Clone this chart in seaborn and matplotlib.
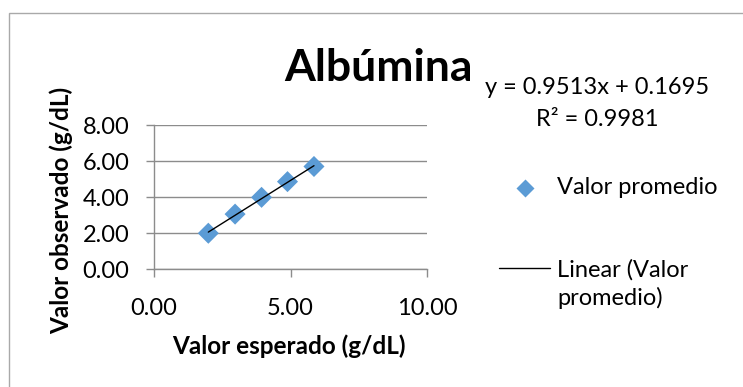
import matplotlib
matplotlib.use("Agg")
import matplotlib.pyplot as plt
import seaborn as sns
import pandas as pd
from matplotlib.lines import Line2D
from matplotlib.patches import Rectangle

# Albumin linearity: expected vs. observed mean concentration (g/dL)
expected = [1.99, 2.97, 3.94, 4.89, 5.86]
observed = [2.00, 3.06, 3.99, 4.86, 5.70]

# Linear trendline coefficients as reported
slope = 0.9513
intercept = 0.1695
r_squared = 0.9981

x_ticks = [0, 5, 10]
y_ticks = [0, 2, 4, 6, 8]

title = "Albúmina"
x_label = "Valor esperado (g/dL)"
y_label = "Valor observado (g/dL)"
series_name = "Valor promedio"
trend_name = "Linear (Valor\npromedio)"

sns.set_theme(style="white")
plt.rcParams["font.family"] = ["Lato", "DejaVu Sans"]

W, H = 743, 387
fig = plt.figure(figsize=(W / 100, H / 100), dpi=100)
fig.patch.set_facecolor("white")


def fx(px):
    return px / W


def fy(py):
    return 1 - py / H


# chart area border
fig.add_artist(Rectangle((fx(8.5), fy(400)), fx(800), fy(13.5) - fy(400),
                         transform=fig.transFigure, fill=False,
                         edgecolor="#A9A9A9", linewidth=1.0))

x0, x1, ytop, ybot = 154, 427, 125, 269.3
ax = fig.add_axes([fx(x0), fy(ybot), fx(x1) - fx(x0), (ybot - ytop) / H])
ax.set_facecolor("white")

text_size = 17
label_size = 17.5
marker_color = "#5B9BD5"

grid_color = "#8C8C8C"
ax.set_xlim(0, 10)
ax.set_ylim(0, 8)
ax.set_xticks(x_ticks)
ax.set_yticks(y_ticks)
ax.set_xticklabels([f"{v:.2f}" for v in x_ticks])
ax.set_yticklabels([f"{v:.2f}" for v in y_ticks])
ax.yaxis.grid(True, color=grid_color, linewidth=1.0)
ax.xaxis.grid(False)
for side in ("top", "right"):
    ax.spines[side].set_visible(False)
for side in ("left", "bottom"):
    ax.spines[side].set_color(grid_color)
    ax.spines[side].set_linewidth(1.0)
ax.tick_params(axis="y", direction="out", length=5.8, width=1.0,
               color=grid_color, pad=12, labelsize=text_size,
               labelcolor="black", left=True)
ax.tick_params(axis="x", direction="out", length=5.8, width=1.0,
               color=grid_color, pad=15, labelsize=text_size,
               labelcolor="black", bottom=True)

df = pd.DataFrame({"esperado": expected, "observado": observed})
fit_x = [min(expected), max(expected)]
fit = pd.DataFrame({"esperado": fit_x,
                    "observado": [slope * v + intercept for v in fit_x]})

sns.lineplot(data=fit, x="esperado", y="observado", ax=ax, color="black",
             linewidth=1.0, zorder=3)
sns.scatterplot(data=df, x="esperado", y="observado", ax=ax, marker="D",
                s=115, color=marker_color, edgecolor="none", zorder=2)

ax.set_xlabel(x_label, fontsize=label_size, fontweight="bold", color="black")
ax.set_ylabel(y_label, fontsize=label_size, fontweight="bold", color="black")
ax.xaxis.set_label_coords((289 - x0) / (x1 - x0), (ybot - 346) / (ybot - ytop))
ax.xaxis.label.set_verticalalignment("center")
ax.yaxis.set_label_coords((61 - x0) / (x1 - x0), (ybot - 210.5) / (ybot - ytop))
ax.yaxis.label.set_verticalalignment("center")

fig.text(fx(378), fy(81), title, fontsize=32, fontweight="bold",
         ha="center", va="baseline", color="black")

fig.text(fx(597.5), fy(87), f"y = {slope}x + {intercept}", fontsize=text_size,
         ha="center", va="center", color="black")
fig.text(fx(597.5), fy(120), f"R² = {r_squared}", fontsize=text_size,
         ha="center", va="center", color="black")

# legend entries
fig.add_artist(Line2D([fx(525)], [fy(188)], transform=fig.transFigure,
                      marker="D", markersize=9.5, color=marker_color,
                      markeredgecolor="none", linestyle="none"))
fig.text(fx(557), fy(188), series_name, fontsize=text_size, ha="left",
         va="center", color="black")
fig.add_artist(Line2D([fx(499), fx(550)], [fy(268), fy(268)],
                      transform=fig.transFigure, color="black", linewidth=1.0))
fig.text(fx(557), fy(284), trend_name, fontsize=text_size, ha="left",
         va="center", color="black", linespacing=1.35)

fig.savefig("out.png", dpi=100)
